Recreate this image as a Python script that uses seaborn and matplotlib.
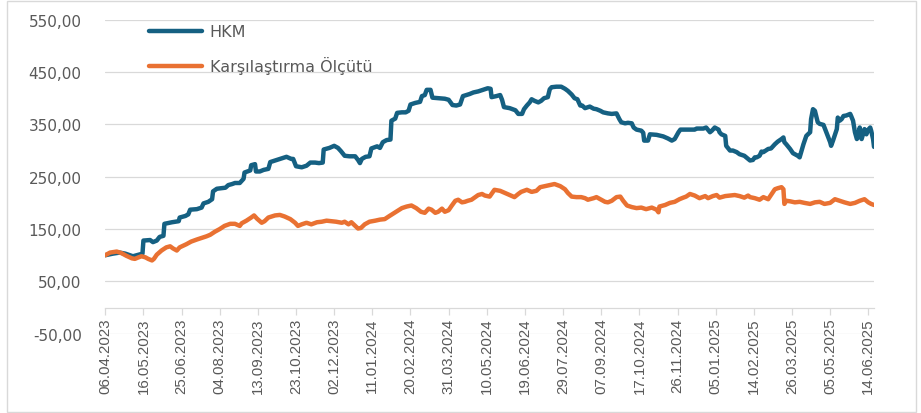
import matplotlib
matplotlib.use("Agg")
import matplotlib.pyplot as plt
from matplotlib.patches import Rectangle
import pandas as pd
import seaborn as sns

# HKM fund index (start = 100)
hkm_dates = [
    "06.04.2023", "14.04.2023", "21.04.2023", "27.04.2023", "02.05.2023", "05.05.2023",
    "11.05.2023", "15.05.2023", "16.05.2023", "23.05.2023", "26.05.2023", "30.05.2023",
    "02.06.2023", "06.06.2023", "07.06.2023", "15.06.2023", "22.06.2023", "23.06.2023",
    "29.06.2023", "02.07.2023", "04.07.2023", "11.07.2023", "16.07.2023", "18.07.2023",
    "23.07.2023", "27.07.2023", "28.07.2023", "01.08.2023", "10.08.2023", "13.08.2023",
    "17.08.2023", "20.08.2023", "25.08.2023", "29.08.2023", "30.08.2023", "05.09.2023",
    "06.09.2023", "10.09.2023", "11.09.2023", "15.09.2023", "19.09.2023", "24.09.2023",
    "26.09.2023", "01.10.2023", "08.10.2023", "13.10.2023", "18.10.2023", "20.10.2023",
    "23.10.2023", "29.10.2023", "03.11.2023", "07.11.2023", "12.11.2023", "16.11.2023",
    "20.11.2023", "21.11.2023", "27.11.2023", "02.12.2023", "06.12.2023", "09.12.2023",
    "13.12.2023", "18.12.2023", "24.12.2023", "27.12.2023", "29.12.2023", "31.12.2023",
    "04.01.2024", "08.01.2024", "10.01.2024", "16.01.2024", "19.01.2024", "22.01.2024",
    "26.01.2024", "30.01.2024", "31.01.2024", "04.02.2024", "06.02.2024", "11.02.2024",
    "15.02.2024", "18.02.2024", "20.02.2024", "25.02.2024", "01.03.2024", "03.03.2024",
    "06.03.2024", "08.03.2024", "12.03.2024", "14.03.2024", "20.03.2024", "27.03.2024",
    "31.03.2024", "04.04.2024", "08.04.2024", "12.04.2024", "15.04.2024", "22.04.2024",
    "26.04.2024", "01.05.2024", "06.05.2024", "11.05.2024", "14.05.2024", "15.05.2024",
    "20.05.2024", "24.05.2024", "26.05.2024", "28.05.2024", "03.06.2024", "09.06.2024",
    "12.06.2024", "16.06.2024", "18.06.2024", "21.06.2024", "24.06.2024", "26.06.2024",
    "29.06.2024", "03.07.2024", "06.07.2024", "09.07.2024", "13.07.2024", "15.07.2024",
    "17.07.2024", "22.07.2024", "27.07.2024", "31.07.2024", "03.08.2024", "07.08.2024",
    "10.08.2024", "13.08.2024", "16.08.2024", "18.08.2024", "21.08.2024", "26.08.2024",
    "30.08.2024", "02.09.2024", "06.09.2024", "09.09.2024", "14.09.2024", "18.09.2024",
    "23.09.2024", "26.09.2024", "28.09.2024", "02.10.2024", "05.10.2024", "09.10.2024",
    "11.10.2024", "14.10.2024", "19.10.2024", "21.10.2024", "22.10.2024", "26.10.2024",
    "28.10.2024", "04.11.2024", "11.11.2024", "16.11.2024", "20.11.2024", "23.11.2024",
    "27.11.2024", "29.11.2024", "05.12.2024", "14.12.2024", "16.12.2024", "23.12.2024",
    "26.12.2024", "30.12.2024", "01.01.2025", "04.01.2025", "08.01.2025", "09.01.2025",
    "11.01.2025", "15.01.2025", "16.01.2025", "20.01.2025", "23.01.2025", "27.01.2025",
    "30.01.2025", "04.02.2025", "08.02.2025", "10.02.2025", "13.02.2025", "15.02.2025",
    "17.02.2025", "20.02.2025", "22.02.2025", "24.02.2025", "01.03.2025", "04.03.2025",
    "08.03.2025", "11.03.2025", "15.03.2025", "17.03.2025", "18.03.2025", "20.03.2025",
    "24.03.2025", "27.03.2025", "01.04.2025", "03.04.2025", "07.04.2025", "10.04.2025",
    "14.04.2025", "15.04.2025", "17.04.2025", "19.04.2025", "22.04.2025", "24.04.2025",
    "28.04.2025", "01.05.2025", "05.05.2025", "06.05.2025", "08.05.2025", "12.05.2025",
    "13.05.2025", "15.05.2025", "17.05.2025", "19.05.2025", "22.05.2025", "26.05.2025",
    "27.05.2025", "29.05.2025", "31.05.2025", "02.06.2025", "03.06.2025", "05.06.2025",
    "07.06.2025", "09.06.2025", "10.06.2025", "12.06.2025", "14.06.2025", "16.06.2025",
    "17.06.2025", "19.06.2025", "20.06.2025",
]
hkm_values = [
    100, 103, 105, 103, 100, 98,
    101, 103, 128, 129, 125, 128,
    135, 137, 160, 163, 165, 172,
    175, 178, 187, 188, 191, 199,
    202, 207, 222, 227, 229, 234,
    236, 238, 238, 246, 258, 262,
    272, 274, 260, 260, 263, 265,
    278, 281, 285, 288, 284, 284,
    270, 268, 271, 277, 277, 276,
    277, 302, 305, 309, 305, 299,
    290, 289, 289, 282, 276, 284,
    288, 289, 304, 308, 305, 316,
    320, 321, 357, 361, 372, 373,
    373, 376, 388, 391, 393, 404,
    406, 416, 416, 401, 400, 399,
    397, 387, 386, 388, 404, 408,
    411, 413, 416, 419, 418, 402,
    404, 406, 397, 383, 381, 377,
    370, 370, 379, 386, 392, 398,
    395, 392, 395, 400, 402, 417,
    421, 422, 422, 418, 414, 407,
    400, 398, 386, 386, 381, 384,
    380, 379, 376, 373, 371, 370,
    371, 360, 354, 352, 353, 352,
    344, 340, 338, 334, 319, 319,
    331, 330, 327, 323, 319, 322,
    335, 340, 340, 340, 342, 342,
    344, 335, 338, 344, 340, 335,
    331, 328, 309, 300, 300, 297,
    293, 290, 284, 281, 282, 287,
    287, 290, 298, 297, 303, 304,
    312, 317, 322, 325, 316, 312,
    303, 295, 290, 287, 312, 328,
    335, 360, 379, 376, 354, 351,
    349, 335, 316, 309, 319, 341,
    363, 357, 360, 366, 367, 370,
    366, 357, 335, 322, 325, 344,
    322, 335, 341, 331, 340, 344,
    338, 322, 307,
]

# Benchmark index (start = 100)
bench_dates = [
    "06.04.2023", "11.04.2023", "18.04.2023", "23.04.2023", "28.04.2023", "04.05.2023",
    "07.05.2023", "11.05.2023", "14.05.2023", "18.05.2023", "21.05.2023", "25.05.2023",
    "27.05.2023", "30.05.2023", "04.06.2023", "09.06.2023", "13.06.2023", "16.06.2023",
    "20.06.2023", "23.06.2023", "30.06.2023", "05.07.2023", "11.07.2023", "16.07.2023",
    "21.07.2023", "25.07.2023", "30.07.2023", "04.08.2023", "09.08.2023", "15.08.2023",
    "20.08.2023", "25.08.2023", "27.08.2023", "01.09.2023", "06.09.2023", "09.09.2023",
    "12.09.2023", "17.09.2023", "20.09.2023", "24.09.2023", "01.10.2023", "06.10.2023",
    "11.10.2023", "17.10.2023", "22.10.2023", "25.10.2023", "29.10.2023", "03.11.2023",
    "08.11.2023", "14.11.2023", "19.11.2023", "24.11.2023", "29.11.2023", "04.12.2023",
    "10.12.2023", "13.12.2023", "17.12.2023", "20.12.2023", "24.12.2023", "27.12.2023",
    "30.12.2023", "03.01.2024", "08.01.2024", "14.01.2024", "19.01.2024", "24.01.2024",
    "29.01.2024", "05.02.2024", "11.02.2024", "16.02.2024", "21.02.2024", "26.02.2024",
    "02.03.2024", "06.03.2024", "10.03.2024", "13.03.2024", "17.03.2024", "20.03.2024",
    "24.03.2024", "27.03.2024", "31.03.2024", "03.04.2024", "07.04.2024", "10.04.2024",
    "14.04.2024", "17.04.2024", "20.04.2024", "24.04.2024", "28.04.2024", "01.05.2024",
    "05.05.2024", "08.05.2024", "13.05.2024", "18.05.2024", "24.05.2024", "29.05.2024",
    "03.06.2024", "08.06.2024", "12.06.2024", "15.06.2024", "21.06.2024", "26.06.2024",
    "01.07.2024", "05.07.2024", "10.07.2024", "15.07.2024", "20.07.2024", "26.07.2024",
    "31.07.2024", "03.08.2024", "07.08.2024", "12.08.2024", "17.08.2024", "21.08.2024",
    "24.08.2024", "30.08.2024", "02.09.2024", "06.09.2024", "11.09.2024", "14.09.2024",
    "18.09.2024", "23.09.2024", "27.09.2024", "30.09.2024", "04.10.2024", "09.10.2024",
    "14.10.2024", "19.10.2024", "24.10.2024", "30.10.2024", "04.11.2024", "06.11.2024",
    "07.11.2024", "13.11.2024", "18.11.2024", "23.11.2024", "28.11.2024", "02.12.2024",
    "05.12.2024", "09.12.2024", "14.12.2024", "19.12.2024", "25.12.2024", "28.12.2024",
    "02.01.2025", "06.01.2025", "09.01.2025", "15.01.2025", "20.01.2025", "25.01.2025",
    "30.01.2025", "04.02.2025", "08.02.2025", "10.02.2025", "15.02.2025", "20.02.2025",
    "24.02.2025", "01.03.2025", "04.03.2025", "08.03.2025", "11.03.2025", "15.03.2025",
    "17.03.2025", "18.03.2025", "20.03.2025", "24.03.2025", "29.03.2025", "03.04.2025",
    "08.04.2025", "14.04.2025", "19.04.2025", "24.04.2025", "29.04.2025", "05.05.2025",
    "10.05.2025", "15.05.2025", "20.05.2025", "26.05.2025", "31.05.2025", "05.06.2025",
    "10.06.2025", "14.06.2025", "17.06.2025", "20.06.2025",
]
bench_values = [
    100, 105, 107, 104, 99, 94,
    93, 96, 98, 96, 93, 90,
    93, 101, 109, 115, 117, 113,
    109, 115, 121, 126, 130, 133,
    136, 139, 145, 150, 156, 160,
    160, 156, 161, 166, 172, 176,
    170, 162, 165, 172, 176, 177,
    174, 169, 162, 156, 159, 162,
    159, 163, 164, 166, 165, 164,
    162, 164, 159, 163, 156, 151,
    152, 159, 164, 166, 168, 169,
    175, 183, 190, 193, 195, 190,
    183, 181, 189, 187, 181, 183,
    189, 183, 186, 194, 204, 206,
    201, 202, 204, 206, 211, 215,
    217, 214, 212, 225, 223, 219,
    215, 211, 217, 221, 225, 221,
    223, 230, 232, 234, 236, 232,
    226, 219, 212, 211, 211, 209,
    206, 209, 211, 207, 202, 201,
    204, 211, 212, 204, 195, 192,
    190, 191, 188, 191, 187, 182,
    193, 196, 200, 202, 207, 210,
    212, 217, 214, 209, 213, 209,
    213, 215, 210, 213, 214, 215,
    213, 210, 214, 211, 209, 206,
    211, 207, 215, 226, 228, 230,
    226, 198, 204, 203, 201, 202,
    200, 198, 201, 202, 198, 200,
    207, 204, 201, 198, 200, 204,
    207, 201, 198, 196,
]

series_names = ["HKM", "Karşılaştırma Ölçütü"]
series_colors = ["#156082", "#E97132"]

x_tick_labels = [
    "06.04.2023", "16.05.2023", "25.06.2023", "04.08.2023", "13.09.2023", "23.10.2023",
    "02.12.2023", "11.01.2024", "20.02.2024", "31.03.2024", "10.05.2024", "19.06.2024",
    "29.07.2024", "07.09.2024", "17.10.2024", "26.11.2024", "05.01.2025", "14.02.2025",
    "26.03.2025", "05.05.2025", "14.06.2025",
]
y_ticks = [-50, 50, 150, 250, 350, 450, 550]

date_fmt = "%d.%m.%Y"
df = pd.concat([
    pd.DataFrame({"Tarih": pd.to_datetime(hkm_dates, format=date_fmt),
                  "Değer": hkm_values, "Seri": series_names[0]}),
    pd.DataFrame({"Tarih": pd.to_datetime(bench_dates, format=date_fmt),
                  "Değer": bench_values, "Seri": series_names[1]}),
], ignore_index=True)

sns.set_theme(style="white")
plt.rcParams["font.family"] = ["DejaVu Sans"]

text_color = "#595959"
line_gray = "#d9d9d9"

fig = plt.figure(figsize=(9.21, 4.14), dpi=100)
ax = fig.add_axes([0.1143, 0.1915, 0.8347, 0.7585])

sns.lineplot(data=df, x="Tarih", y="Değer", hue="Seri", hue_order=series_names,
             palette=series_colors, linewidth=3.2, estimator=None, errorbar=None,
             sort=True, ax=ax, solid_joinstyle="round", solid_capstyle="round")

ax.set_xlim(df["Tarih"].min(), df["Tarih"].max())
ax.set_ylim(y_ticks[0], y_ticks[-1])

# horizontal grid
ax.set_axisbelow(True)
ax.yaxis.grid(True, color=line_gray, linewidth=0.9)
ax.xaxis.grid(False)

for side in ("left", "right", "top"):
    ax.spines[side].set_visible(False)
ax.spines["bottom"].set_position(("data", 0))
ax.spines["bottom"].set_color(line_gray)
ax.spines["bottom"].set_linewidth(0.9)

ax.set_xticks(pd.to_datetime(x_tick_labels, format=date_fmt))
ax.set_xticklabels(x_tick_labels, rotation=90, fontsize=10.8, color=text_color,
                   family=["Liberation Sans", "DejaVu Sans"])
ax.tick_params(axis="x", direction="out", length=5, width=0.9, color=line_gray,
               pad=2, bottom=True)

ax.set_yticks(y_ticks)
ax.set_yticklabels([f"{v:.2f}".replace(".", ",") for v in y_ticks],
                   fontsize=11, color=text_color)
ax.tick_params(axis="y", length=0, pad=17)

ax.set_xlabel("")
ax.set_ylabel("")

handles, labels = ax.get_legend_handles_labels()
leg = ax.legend(handles, labels, loc="upper left", bbox_to_anchor=(0.057, 0.985),
                frameon=False, fontsize=11.5, handlelength=3.3, handletextpad=0.5,
                labelspacing=1.05, borderaxespad=0, borderpad=0)
for t in leg.get_texts():
    t.set_color(text_color)

# chart-area border
fig.patches.append(Rectangle((7 / 921, 1 / 414), 909 / 921, 411 / 414,
                             transform=fig.transFigure, fill=False,
                             edgecolor=line_gray, linewidth=1))

fig.savefig("out.png", dpi=100)
